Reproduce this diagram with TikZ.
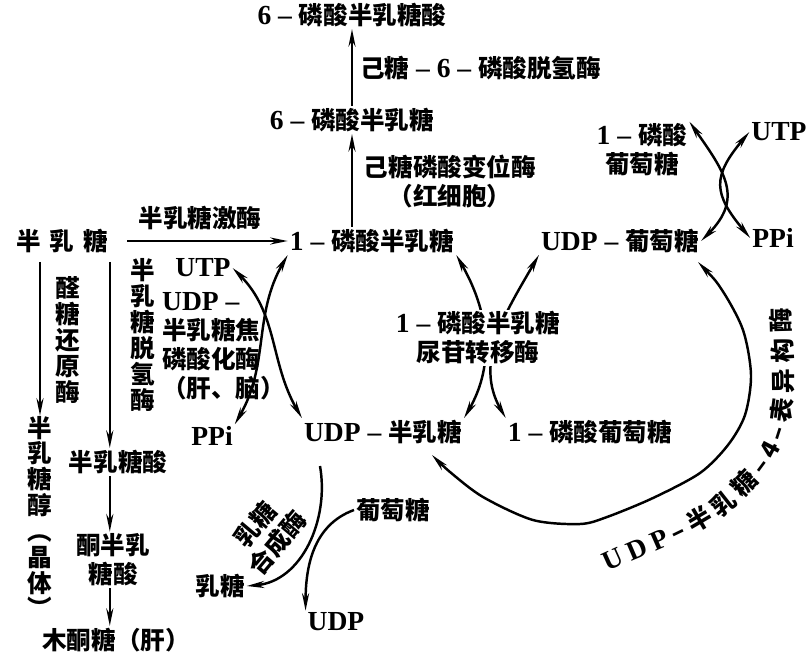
\documentclass[tikz,border=0pt]{standalone}
\usepackage{fontspec}
\setmainfont{Noto Sans CJK SC}
\newfontfamily\cjkf{Noto Sans CJK SC}
\newfontfamily\latf{Liberation Serif}[Scale=1.12]
\newcommand{\lat}[1]{{\latf\bfseries #1}}
\newcommand{\nfont}{\cjkf\fontsize{14}{16.5}\selectfont\bfseries}
\newcommand{\vfont}{\cjkf\fontsize{14}{14.7}\selectfont\bfseries}
\usetikzlibrary{arrows.meta,decorations.text,calc}
\tikzset{
    cmpd/.style =   {inner sep=1pt,
                    font=\nfont},
    enz/.style =    {inner sep=1pt,
                    align=center,
                    font=\nfont},
    vlab/.style =   {inner sep=0pt,
                    align=center,
                    font=\vfont},
    spear/.tip =    {Stealth[length=10pt,width=4pt]},
    rxn/.style =    {line width=1.4pt,
                    -spear},
    rev/.style =    {line width=1.4pt,
                    spear-spear}}

\begin{document}
\begin{tikzpicture}[x=0.02cm,y=0.02cm]
            \useasboundingbox (0,0) rectangle (811,-657);
            % compounds
            \node[cmpd]     (galac6) at (352,-15)   {\lat{6 – }磷酸半乳糖酸};
            \node[cmpd]     (galp6)  at (352,-120)  {\lat{6 – }磷酸半乳糖};
            \node[cmpd]     (galp1)  at (372,-241)  {\lat{1 – }磷酸半乳糖};
            \node[cmpd]     (gal)    at (62,-241)   {半\hspace{5pt}乳\hspace{5pt}糖};
            \node[cmpd]     (udpglc) at (620,-241)  {\lat{UDP – }葡萄糖};
            \node[cmpd,align=center] (glcp1a) at (642,-150) {\lat{1 – }磷酸\\葡萄糖};
            \node[cmpd]     (utpR)   at (779,-132)  {\lat{UTP}};
            \node[cmpd]     (ppiR)   at (773,-238)  {\lat{PPi}};
            \node[cmpd]     (utpL)   at (203,-268)  {\lat{UTP}};
            \node[cmpd]     (ppiL)   at (212,-436)  {\lat{PPi}};
            \node[cmpd]     (udpgal) at (383,-432)  {\lat{UDP – }半乳糖};
            \node[cmpd]     (glcp1b) at (590,-432)  {\lat{1 – }磷酸葡萄糖};
            \node[vlab]     (galol)  at (40,-517)   {半\\乳\\糖\\醇\\︵\\晶\\体\\︶};
            \node[cmpd]     (galacid) at (118,-462) {半乳糖酸};
            \node[cmpd,align=center] (ketogal) at (113,-560) {酮半乳\\糖酸};
            \node[cmpd]     (xylu)   at (116,-640)  {木酮糖（肝）};
            \node[cmpd]     (glc)    at (393,-510)  {葡萄糖};
            \node[cmpd]     (lac)    at (220,-586)  {乳糖};
            \node[cmpd]     (udp)    at (336,-622)  {\lat{UDP}};
            % enzymes
            \node[enz]      (kin)    at (200,-218)  {半乳糖激酶};
            \node[vlab]     (red)    at (68,-340)   {醛\\糖\\还\\原\\酶};
            \node[vlab]     (dhg)    at (143,-335)  {半\\乳\\糖\\脱\\氢\\酶};
            \node[enz,align=left,anchor=north west] (ppase) at (160,-290) {\lat{UDP –}\\半乳糖焦\\磷酸化酶\\（肝、脑）};
            \node[enz,anchor=west] (dh6) at (358,-68) {己糖\lat{ – 6 – }磷酸脱氢酶};
            \node[enz]      (mut)    at (450,-182)  {己糖磷酸变位酶\\（红细胞）};
            \node[enz,rotate=50] (syn) at (266,-534) {乳糖\\合成酶};
            % straight arrows
            \draw[rxn,shorten <=10pt] (gal) -- (galp1);
            \draw[rxn,shorten <=4pt] (gal.south -| galol) -- (galol.north);
            \draw[rxn,shorten <=4pt] (gal.south east) -- (gal.south east |- galacid.north);
            \draw[rxn] (galacid.south -| gal.south east) -- (ketogal.north -| gal.south east);
            \draw[rxn] (ketogal.south -| gal.south east) -- (xylu.north -| gal.south east);
            \draw[rxn] (galp1.north -| galp6) -- (galp6.south);
            \draw[rxn] (galp6) -- (galac6);
            % crossing arcs
            \draw[rev] (utpL.east) to[out=-45,in=120] (udpgal.north west);
            \draw[rev] (galp1.south west) to[out=-120,in=60] (ppiL.north east);
            \draw[rev] (galp1.south east) to[out=-60,in=60] (udpgal.north east);
            \draw[rev] (udpglc.south west) to[out=-120,in=120] (glcp1b.north west);
            \draw[rev] (glcp1a.north east) to[out=-55,in=45,looseness=1.3] (udpglc.east);
            \draw[rev] (utpR.west) to[out=-130,in=130,looseness=1.4] (ppiR.west);
            \node[enz,fill=white] (trans) at (478,-338) {\lat{1 – }磷酸半乳糖\\尿苷转移酶};
            % epimerase loop
            \draw[rev] plot[smooth] coordinates {(698,-262) (722,-290) (743,-330) (751,-375)
                (745,-415) (728,-445) (700,-473) (653,-498) (607,-517) (580,-524)
                (533,-520) (483,-497) (450,-472) (432,-455)};
            \path[decorate,decoration={text along path,text align={fit to path},
                text={|\latf\bfseries\fontsize{14}{16}\selectfont|UDP|\nfont|–半乳糖–4–表异构酶}}]
                (608,-572) to[out=25,in=-130] (762,-478) to[out=50,in=-90] (790,-308);
            % lactose synthase
            \coordinate (synA) at (320,-466);
            \draw[rxn] (synA) to[out=-80,in=5] (lac.east);
            \draw[rxn] (glc.west) to[out=-160,in=90] (udp.north west);
        \end{tikzpicture}
\end{document}
